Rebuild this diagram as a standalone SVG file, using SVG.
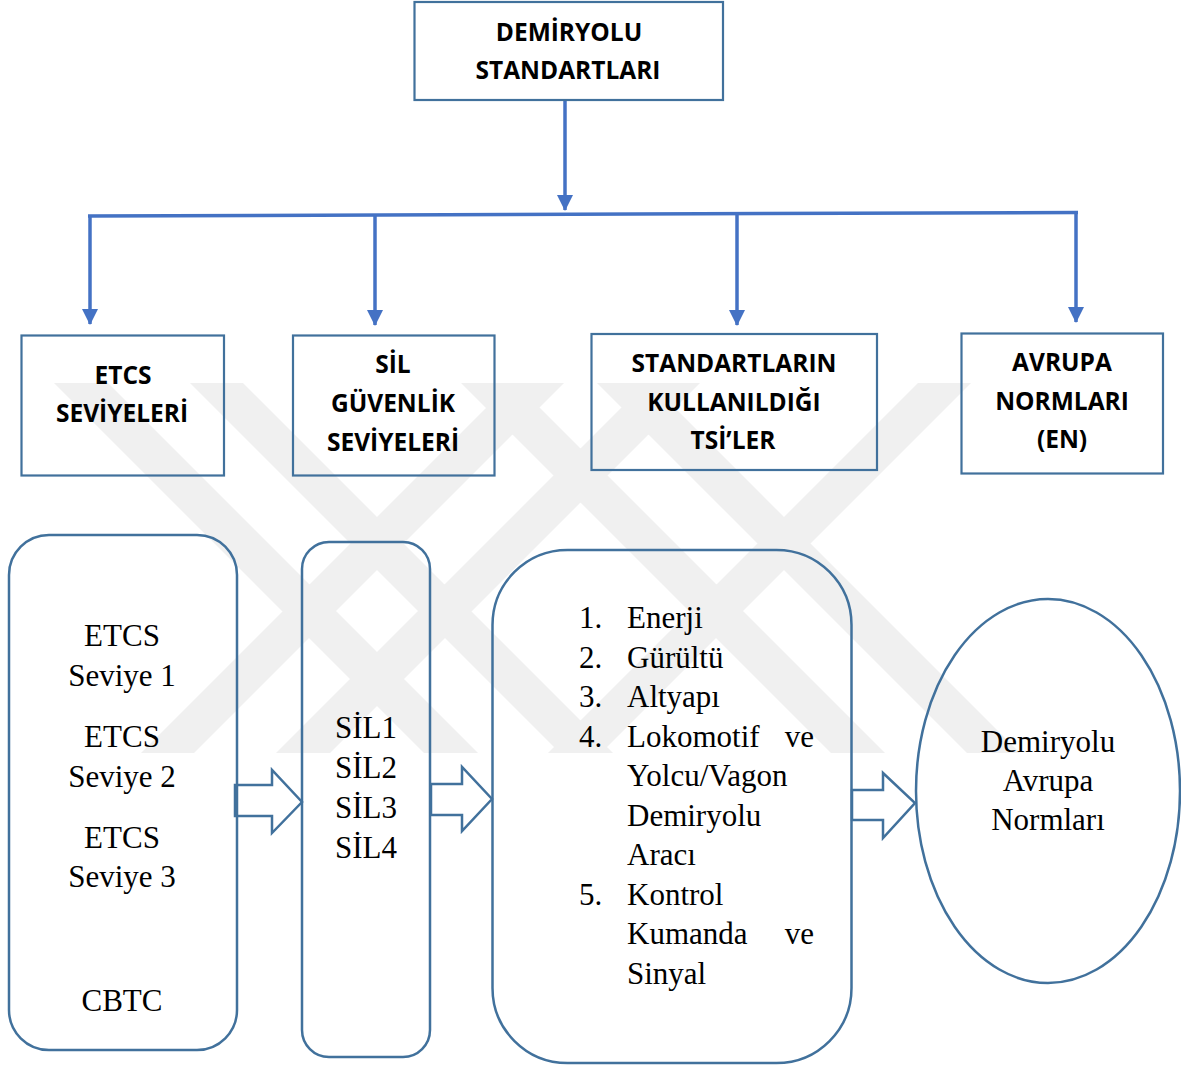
<svg xmlns="http://www.w3.org/2000/svg" width="1181" height="1067" viewBox="0 0 1181 1067">
<style>
.box{fill:none;stroke:#41719C;stroke-width:2.2}
.rbox{fill:none;stroke:#41719C;stroke-width:2.5}
.blk{fill:#fff;stroke:#41719C;stroke-width:2.5;stroke-linejoin:miter}
.con{fill:none;stroke:#4472C4;stroke-width:3.5}
.h{font-family:"Open Sans","DejaVu Sans",sans-serif;font-weight:bold;font-size:24.5px;fill:#000;text-anchor:middle}
.s{font-family:"Liberation Serif","Times New Roman",serif;font-size:31px;fill:#000}
.c{text-anchor:middle}
.e{text-anchor:end}
</style>
<defs>
<marker id="ah" markerUnits="userSpaceOnUse" markerWidth="16" markerHeight="16" viewBox="0 0 16 16" refX="15" refY="8" orient="auto">
<path d="M0,0 L16,8 L0,16 Z" fill="#4472C4"/>
</marker>
<clipPath id="wm"><rect x="0" y="383" width="1181" height="370"/></clipPath>
</defs>
<rect width="1181" height="1067" fill="#fff"/>
<g id="watermark" clip-path="url(#wm)" fill="#f0f0f0">
<path d="M54,383 L108,383 L478,753 L424,753 Z M190,383 L243,383 L613,753 L560,753 Z M511,383 L564,383 L194,753 L141,753 Z M646,383 L700,383 L330,753 L276,753 Z M461,383 L515,383 L885,753 L831,753 Z M597,383 L650,383 L1020,753 L967,753 Z M918,383 L971,383 L601,753 L548,753 Z"/>
</g>
<g id="connectors">
<line class="con" x1="565" y1="100" x2="565" y2="210" marker-end="url(#ah)"/>
<line class="con" x1="88" y1="216" x2="1078" y2="212.5"/>
<line class="con" x1="90" y1="216" x2="90" y2="324" marker-end="url(#ah)"/>
<line class="con" x1="375" y1="215" x2="375" y2="325" marker-end="url(#ah)"/>
<line class="con" x1="737" y1="214" x2="737" y2="325" marker-end="url(#ah)"/>
<line class="con" x1="1076" y1="212.5" x2="1076" y2="322" marker-end="url(#ah)"/>
<path class="blk" d="M235,785 L272,785 L272,770 L302,802 L272,833 L272,816 L235,816 Z"/>
<path class="blk" d="M431,784 L462,784 L462,767 L492,799 L462,831 L462,815 L431,815 Z"/>
<path class="blk" d="M852,790 L883,790 L883,773 L915,803 L883,838 L883,820 L852,820 Z"/>
</g>
<g id="n-root">
<rect class="box" x="414.5" y="2" width="308.5" height="98"/>
<text class="h" x="569" y="41">DEMİRYOLU</text>
<text class="h" x="568" y="79">STANDARTLARI</text>
</g>
<g id="n-etcs">
<rect class="box" x="21.5" y="335.5" width="202.5" height="140"/>
<text class="h" x="123" y="384">ETCS</text>
<text class="h" x="122" y="422">SEVİYELERİ</text>
</g>
<g id="n-sil">
<rect class="box" x="293" y="335.5" width="201.5" height="140"/>
<text class="h" x="393" y="373">SİL</text>
<text class="h" x="393" y="412">GÜVENLİK</text>
<text class="h" x="393" y="451">SEVİYELERİ</text>
</g>
<g id="n-tsi">
<rect class="box" x="591.5" y="334" width="285.5" height="136"/>
<text class="h" x="734" y="372">STANDARTLARIN</text>
<text class="h" x="734" y="411">KULLANILDIĞI</text>
<text class="h" x="733" y="449">TSİ’LER</text>
</g>
<g id="n-en">
<rect class="box" x="961.5" y="333.5" width="201.5" height="140"/>
<text class="h" x="1062" y="371">AVRUPA</text>
<text class="h" x="1062" y="410">NORMLARI</text>
<text class="h" x="1062" y="448">(EN)</text>
</g>
<g id="n-etcs-list">
<rect class="rbox" x="9" y="535" width="228" height="515" rx="40" ry="40"/>
<text class="s c" x="122" y="646">ETCS</text>
<text class="s c" x="122" y="686">Seviye 1</text>
<text class="s c" x="122" y="747">ETCS</text>
<text class="s c" x="122" y="787">Seviye 2</text>
<text class="s c" x="122" y="848">ETCS</text>
<text class="s c" x="122" y="887">Seviye 3</text>
<text class="s c" x="122" y="1011">CBTC</text>
</g>
<g id="n-sil-list">
<rect class="rbox" x="302" y="542" width="128" height="515" rx="27" ry="27"/>
<text class="s c" x="366" y="738">SİL1</text>
<text class="s c" x="366" y="778">SİL2</text>
<text class="s c" x="366" y="818">SİL3</text>
<text class="s c" x="366" y="858">SİL4</text>
</g>
<g id="n-tsi-list">
<rect class="rbox" x="492.5" y="550" width="359" height="513" rx="75" ry="75"/>
<text class="s" x="579" y="628">1.</text><text class="s" x="627" y="628">Enerji</text>
<text class="s" x="579" y="667.5">2.</text><text class="s" x="627" y="667.5">Gürültü</text>
<text class="s" x="579" y="707">3.</text><text class="s" x="627" y="707">Altyapı</text>
<text class="s" x="579" y="746.5">4.</text><text class="s" x="627" y="746.5">Lokomotif</text><text class="s e" x="814" y="746.5">ve</text>
<text class="s" x="627" y="786">Yolcu/Vagon</text>
<text class="s" x="627" y="825.5">Demiryolu</text>
<text class="s" x="627" y="865">Aracı</text>
<text class="s" x="579" y="904.5">5.</text><text class="s" x="627" y="904.5">Kontrol</text>
<text class="s" x="627" y="944">Kumanda</text><text class="s e" x="814" y="944">ve</text>
<text class="s" x="627" y="983.5">Sinyal</text>
</g>
<g id="n-norms">
<ellipse class="rbox" cx="1048" cy="791" rx="132" ry="192"/>
<text class="s c" x="1048" y="752">Demiryolu</text>
<text class="s c" x="1048" y="791">Avrupa</text>
<text class="s c" x="1048" y="830">Normları</text>
</g>
</svg>
